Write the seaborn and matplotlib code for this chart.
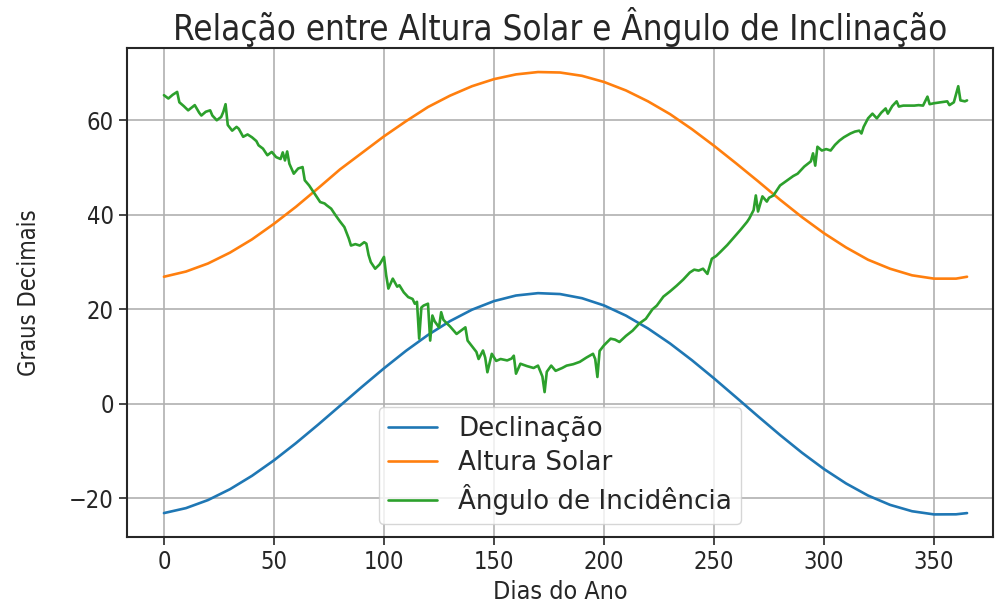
import matplotlib
matplotlib.use("Agg")
import matplotlib.pyplot as plt
import seaborn as sns
import pandas as pd

# Declinação solar (graus) a cada 10 dias
dias_suaves = [0, 10, 20, 30, 40, 50, 60, 70, 80, 90, 100, 110, 120, 130, 140, 150, 160, 170,
               180, 190, 200, 210, 220, 230, 240, 250, 260, 270, 280, 290, 300, 310, 320, 330,
               340, 350, 360, 365]
declinacao = [-23.09, -22.04, -20.34, -18.04, -15.21, -11.93, -8.29, -4.41, -0.40, 3.62, 7.53,
              11.23, 14.59, 17.51, 19.93, 21.75, 22.93, 23.43, 23.24, 22.36, 20.83, 18.67, 15.96,
              12.79, 9.23, 5.40, 1.41, -2.62, -6.57, -10.33, -13.78, -16.82, -19.38, -21.35,
              -22.70, -23.37, -23.35, -23.09]

# Altura solar (graus)
altura_solar = [26.9, 28.0, 29.7, 32.0, 34.8, 38.1, 41.7, 45.6, 49.6, 53.1, 56.6, 59.8, 62.8,
                65.2, 67.2, 68.7, 69.7, 70.2, 70.1, 69.4, 68.1, 66.3, 64.0, 61.3, 58.1, 54.6,
                50.9, 47.1, 43.2, 39.5, 36.1, 33.1, 30.5, 28.6, 27.2, 26.5, 26.5, 26.9]

# Ângulo de incidência medido (graus)
dias_incid = [0, 2, 4, 6, 7, 9, 11, 14, 16, 17, 19, 21, 22, 24, 26, 27, 28, 29, 31, 33, 34, 36,
              38, 40, 42, 43, 45, 47, 49, 51, 53, 54, 55, 56, 57, 59, 61, 63, 64, 66, 68, 70, 71,
              73, 74, 76, 78, 80, 82, 84, 85, 87, 89, 91, 92, 93, 94, 96, 98, 100, 101, 102, 104,
              106, 107, 109, 111, 113, 114, 115, 116, 117, 118, 120, 121, 122, 123, 125, 126, 127,
              128, 130, 133, 135, 137, 138, 140, 142, 143, 145, 146, 147, 149, 151, 153, 156, 158,
              159, 160, 162, 165, 168, 170, 172, 173, 174, 176, 178, 181, 183, 186, 189, 192, 195,
              196, 197, 198, 200, 203, 205, 207, 210, 213, 216, 219, 222, 224, 227, 230, 233, 236,
              239, 241, 243, 245, 247, 249, 251, 253, 256, 259, 262, 265, 266, 268, 269, 270, 272,
              274, 275, 277, 280, 283, 286, 288, 291, 294, 295, 296, 297, 299, 301, 303, 305, 307,
              309, 312, 314, 316, 317, 318, 320, 322, 324, 326, 328, 329, 331, 333, 334, 336, 338,
              341, 343, 345, 347, 348, 350, 353, 356, 357, 359, 361, 362, 364, 365]
angulo_incid = [65.3, 64.6, 65.4, 66.0, 63.8, 63.0, 62.1, 63.2, 61.6, 61.0, 61.8, 62.1, 61.0,
                60.0, 60.7, 61.8, 63.4, 59.0, 57.8, 58.6, 58.2, 56.5, 57.0, 56.4, 55.6, 54.7,
                54.0, 52.6, 53.3, 52.2, 51.8, 53.2, 51.5, 53.4, 50.8, 48.7, 49.8, 50.1, 47.3,
                46.2, 44.8, 43.4, 42.7, 42.4, 42.0, 41.3, 39.9, 38.6, 37.4, 35.0, 33.5, 33.8,
                33.5, 34.2, 33.9, 31.5, 30.0, 28.6, 29.5, 31.1, 27.2, 24.4, 26.5, 24.8, 25.1,
                23.6, 22.6, 22.2, 21.2, 21.6, 13.8, 20.4, 20.8, 21.2, 13.4, 18.7, 17.5, 16.2,
                19.4, 17.8, 17.3, 16.4, 14.8, 15.5, 16.2, 13.4, 12.2, 11.0, 9.5, 11.3, 9.8, 6.7,
                10.6, 9.1, 9.5, 9.2, 9.6, 10.2, 6.4, 8.5, 8.0, 7.6, 8.1, 5.8, 2.5, 6.8, 8.1, 7.0,
                7.6, 8.1, 8.4, 8.9, 9.8, 10.6, 9.5, 5.7, 11.2, 12.4, 13.8, 13.6, 13.1, 14.4, 15.5,
                17.0, 18.0, 20.0, 20.8, 22.7, 23.8, 25.0, 26.3, 27.8, 28.4, 28.2, 28.6, 27.5,
                30.7, 31.3, 32.2, 33.6, 35.2, 36.8, 38.5, 39.2, 41.0, 44.1, 40.7, 43.9, 42.8,
                43.6, 44.1, 46.2, 47.2, 48.2, 48.7, 50.2, 51.3, 53.0, 50.4, 54.4, 53.6, 53.9,
                53.6, 54.8, 55.7, 56.4, 57.2, 57.6, 57.8, 57.2, 58.6, 60.4, 61.4, 60.4, 61.6,
                62.5, 61.4, 63.0, 64.0, 62.9, 63.1, 63.1, 63.1, 63.2, 63.1, 65.0, 63.4, 63.6,
                63.8, 64.0, 63.2, 63.8, 67.2, 64.2, 64.0, 64.2]

titulo = "Relação entre Altura Solar e Ângulo de Inclinação"
rotulo_x = "Dias do Ano"
rotulo_y = "Graus Decimais"

suave = pd.DataFrame({"dia": dias_suaves, "decl": declinacao, "alt": altura_solar})
incid = pd.DataFrame({"dia": dias_incid, "ang": angulo_incid})

sns.set_style("ticks")
plt.rcParams["font.family"] = ["DejaVu Sans"]
plt.rcParams["axes.unicode_minus"] = True

fig = plt.figure(figsize=(9.96, 6.05), dpi=100)
ax = fig.add_axes([0.1275, 0.112, 0.8695, 0.808])

paleta = sns.color_palette("tab10")
sns.lineplot(data=suave, x="dia", y="decl", ax=ax, color=paleta[0], lw=1.9, label="Declinação")
sns.lineplot(data=suave, x="dia", y="alt", ax=ax, color=paleta[1], lw=1.9, label="Altura Solar")
sns.lineplot(data=incid, x="dia", y="ang", ax=ax, color=paleta[2], lw=1.9,
             label="Ângulo de Incidência")

ax.grid(True, color="#b0b0b0", lw=1.2)
ax.set_xticks([0, 50, 100, 150, 200, 250, 300, 350])
ax.set_yticks([-20, 0, 20, 40, 60])
ax.set_xlim(-16.8, 376.8)
ax.set_ylim(-28.2, 75.2)

cond = dict(family="DejaVu Sans", stretch="condensed")
ax.set_title(titulo, fontsize=25, pad=6, **cond)
ax.set_xlabel(rotulo_x, fontsize=18, labelpad=4, **cond)
ax.set_ylabel(rotulo_y, fontsize=17, labelpad=20, **cond)
for t in ax.get_xticklabels() + ax.get_yticklabels():
    t.set_fontsize(17)
    t.set_fontstretch("condensed")
ax.tick_params(length=6, width=1.2)
for s in ax.spines.values():
    s.set_linewidth(1.5)

ax.legend(loc="lower center", bbox_to_anchor=(0.5, 0.0), fontsize=18.8, framealpha=0.8,
          handlelength=1.9, labelspacing=0.3, borderpad=0.35)

fig.savefig("out.png", dpi=100)
